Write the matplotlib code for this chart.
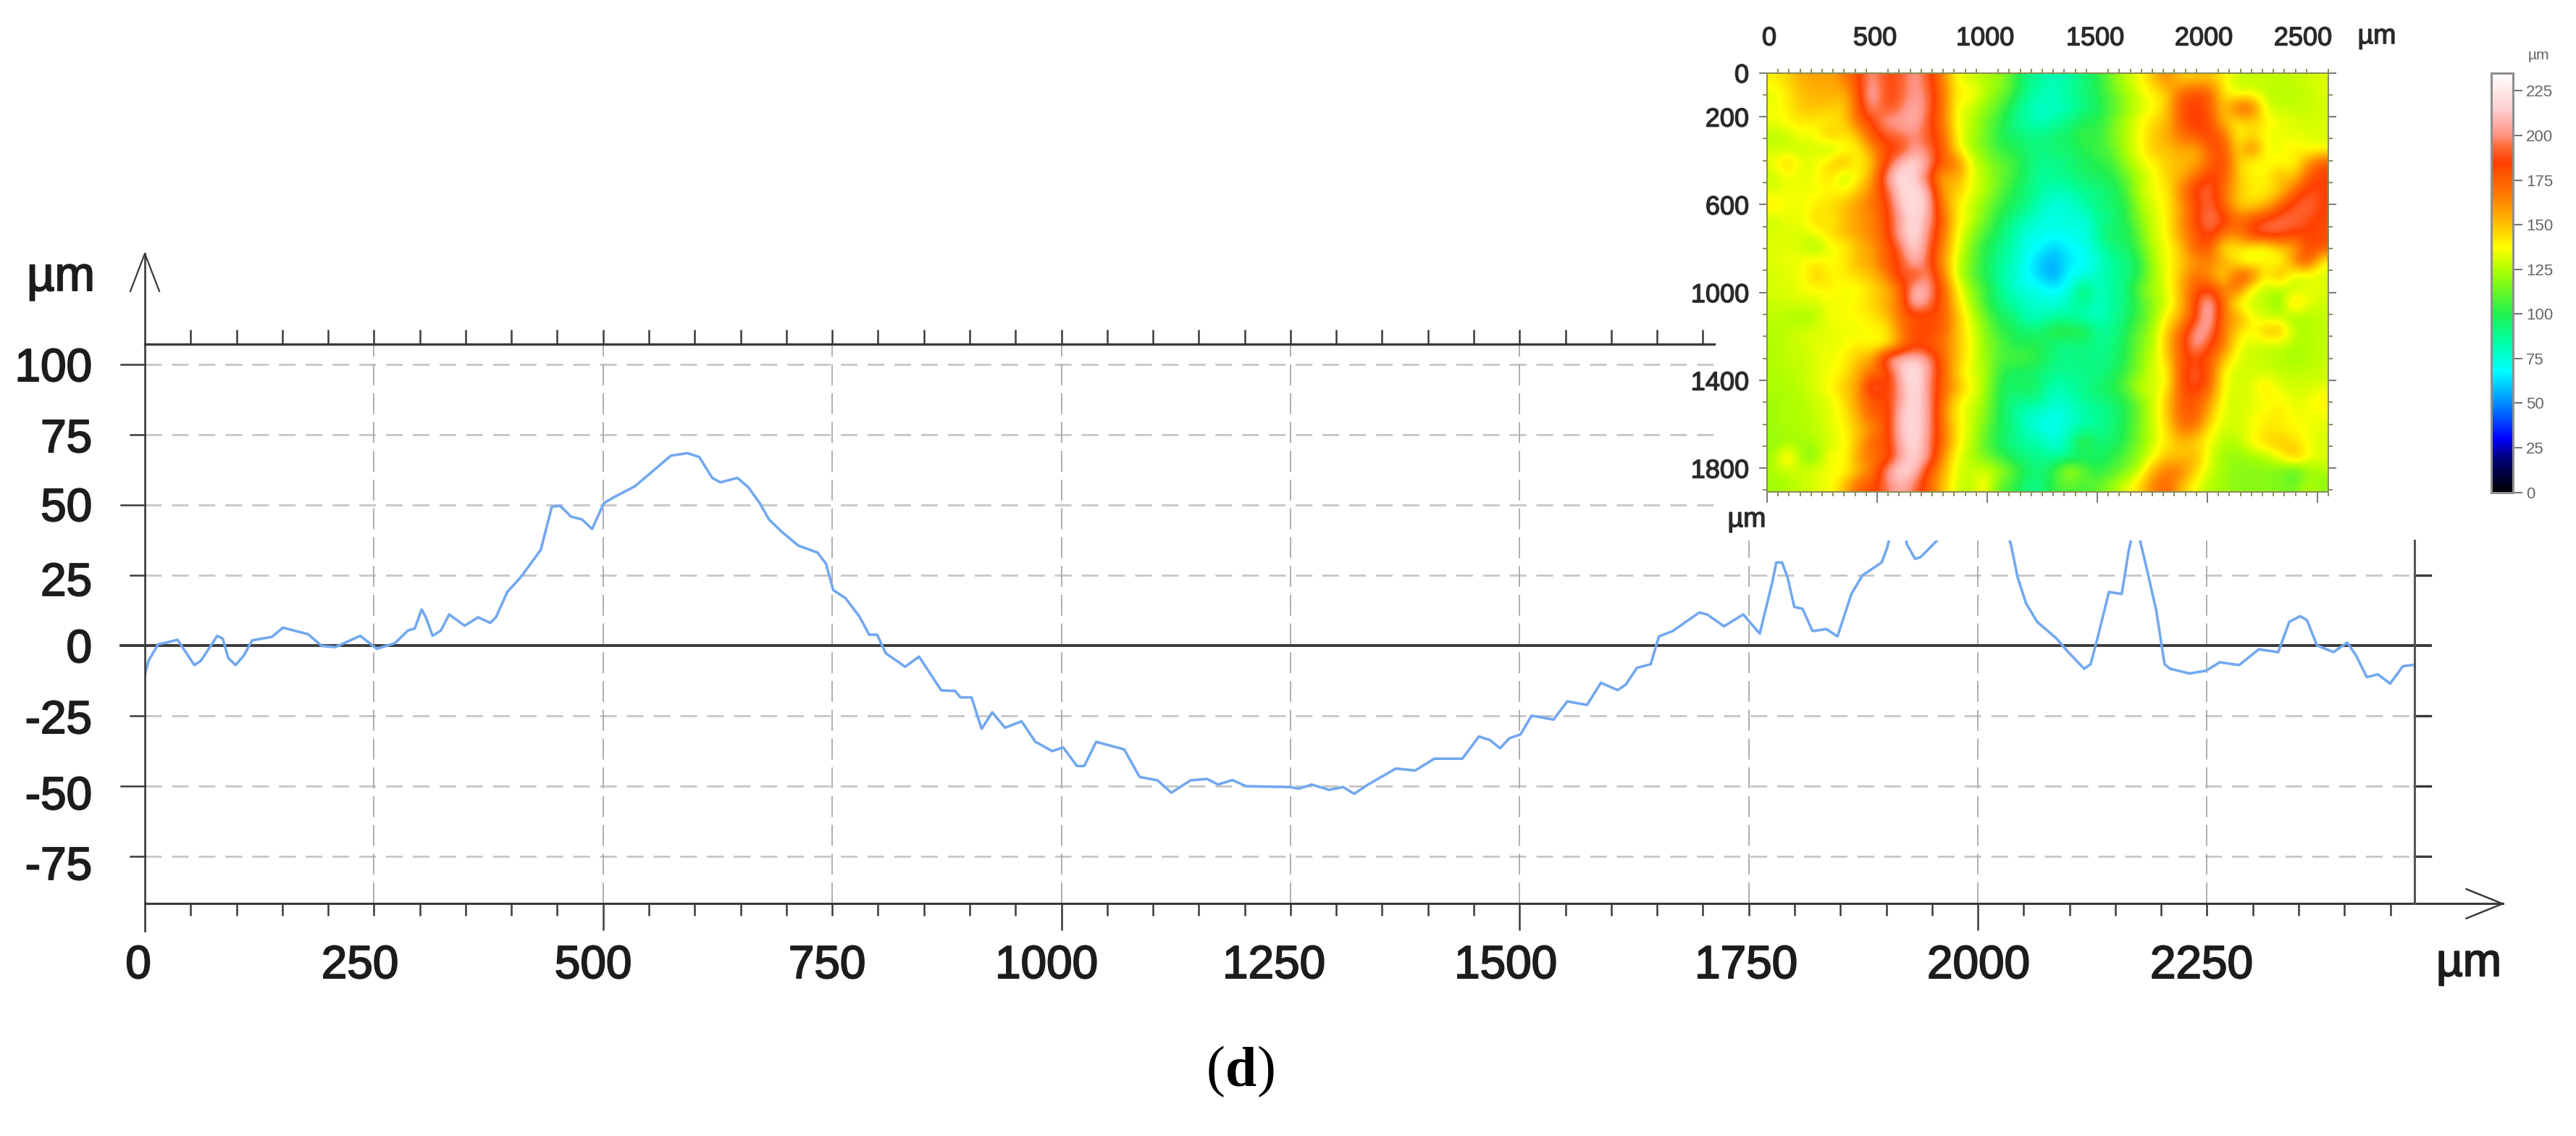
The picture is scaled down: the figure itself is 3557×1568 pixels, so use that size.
import numpy as np
import matplotlib
matplotlib.use("Agg")
import matplotlib.pyplot as plt
import matplotlib.patheffects as pe
from matplotlib.colors import LinearSegmentedColormap, Normalize
from matplotlib.patches import Rectangle

W, H = 3557, 1568

# ====================== profile curve (um, um), None = hidden behind the inset ======================
profile_x = [0, 4, 14.5, 23.6, 35.7, 43, 54, 61, 71, 79, 85, 91, 99, 108, 117, 138.5, 150.6, 178, 193, 208,
             235, 253, 273, 287, 294.5, 302, 306.6, 314, 323, 332, 349, 363.5, 377, 383, 395.5, 410.7, 432, 444, 453, 465,
             477, 488, 501, 513.5, 534.7, 556, 574, 592, 605, 619, 628, 646.5, 658.6, 670.7, 681, 695, 713, 734, 743.3, 751,
             764.5, 779.6, 790.3, 799, 808.4, 829.6, 844.7, 869, 884, 890, 902, 913, 924.6, 938.5, 956.6, 971.7, 990, 1002, 1017, 1025,
             1038, 1068.5, 1085.4, 1105, 1120, 1141, 1159, 1171, 1186.5, 1201.6, 1250, 1259, 1273, 1292, 1307.4, 1319.5, 1334.6, 1365, 1386, 1407,
             1437.5, 1455.6, 1467.7, 1478.6, 1489, 1501, 1513, 1537, 1552, 1573.5, 1588.7, 1607, 1616, 1628, 1643, 1652, 1667, 1696, 1704.7, 1723,
             1744, 1762, 1776, 1780, 1786.3, 1792.4, 1799.7, 1808.7, 1819.6, 1834.7, 1846.8, 1862, 1874, 1895, 1901, 1905.5, 1913, 1920.6, 1922.4, 1931.5,
             1937.5, 1955.7, 1961.7, 2000, 2031, 2036, 2043.4, 2052.5, 2064.6, 2085.7, 2097.8, 2116, 2123, 2131, 2143, 2157, 2164.4, 2167.4, 2172, 2176.5,
             2185.5, 2194.6, 2203.7, 2209.7, 2231, 2249, 2264, 2285, 2306.5, 2327.7, 2339.8, 2351.8, 2359, 2370, 2388, 2403, 2412.3, 2424.4, 2436.5, 2449.8,
             2463.7, 2474]
profile_y = [-10.5, -5.5, 0.4, 1, 2, -1.6, -7, -5.5, -0.6, 3.4, 2.4, -4.5, -7, -3.6, 1.8, 3, 6.3, 4, -0.2, -0.6,
             3.4, -1.2, 0.8, 5.3, 6, 12.8, 10, 3.4, 5.3, 11, 7, 10, 8, 10, 19, 24.5, 34, 49.3, 49.7, 45.8,
             44.8, 41.4, 50.7, 53, 56.6, 62.5, 67.5, 68.4, 67, 59.6, 58, 59.6, 56.2, 50.7, 44.8, 40.4, 35.5, 33, 29, 19.7,
             16.8, 10.3, 3.8, 3.8, -2.8, -7.6, -4, -16, -16.2, -18.5, -18.5, -29.7, -23.8, -29.3, -27, -34.3, -37.6, -36.3, -42.9, -42.9,
             -34.3, -37, -46.8, -48, -52.4, -48, -47.5, -49.5, -47.9, -50.1, -50.4, -51, -49.5, -51.4, -50.4, -52.8, -49.5, -43.8, -44.5, -40.3,
             -40.3, -32.4, -33.7, -36.6, -33, -31.7, -25, -26.4, -19.9, -21.2, -13.3, -15.9, -13.9, -8, -6.7, 3.2, 5.1, 11.7, 11, 6.8,
             11, 4.2, 22.9, 29.5, 29.5, 24.2, 13.7, 13, 5.1, 5.8, 3.2, 18.3, 24.9, 29.5, 34.7, 41, None, 41, 36, 30.8,
             31.4, 37.4, 40, None, 41, 36, 24.2, 15, 8.4, 2.5, -2.1, -8.3, -6.7, 3.2, 19, 18.3, 33.4, 38, None, 38,
             25.5, 12.4, -6.7, -8.3, -10, -9, -6, -7, -1.4, -2.4, 8.4, 10.4, 9, 0, -2.4, 1, -3.4, -11.3, -10.3, -13.6,
             -7.4, -7]

x_major = [0, 250, 500, 750, 1000, 1250, 1500, 1750, 2000, 2250]
y_major = [100, 75, 50, 25, 0, -25, -50, -75]
xtick_labels = ["0", "250", "500", "750", "1000", "1250", "1500", "1750", "2000", "2250"]
ytick_labels = ["100", "75", "50", "25", "0", "-25", "-50", "-75"]

# ====================== surface map, height in um, 30 rows x 40 cols ======================
surface = np.array([
    [140,145,155,158,155,165,182,205,185,190,205,190,165,135,130,125,122,108,90,85, 80,85,92,100,115,128,135,150,165,145,148,150,140,128,128,128,128,128,130,132],
    [132,142,150,152,155,150,180,212,185,190,205,195,170,138,142,125,118,105,88,82, 80,88,92,100,110,122,132,140,145,175,182,178,140,130,132,128,126,126,128,132],
    [135,140,150,150,148,145,178,205,185,195,210,195,170,135,130,120,110,95,82,78, 78,80,90,95,108,118,130,135,148,182,185,178,145,178,175,130,128,128,128,130],
    [135,138,142,140,140,145,172,185,205,205,210,190,168,135,128,115,105,90,85,78, 85,90,100,100,112,125,135,145,150,178,190,182,148,140,148,140,135,132,130,132],
    [125,130,135,135,152,140,150,180,190,195,200,190,175,138,125,115,100,95,90,90, 95,95,108,100,115,125,135,148,155,170,178,185,175,135,145,135,133,133,132,130],
    [130,128,128,132,122,135,138,160,182,182,205,195,178,140,125,115,105,100,95,90, 95,95,100,105,110,125,135,150,148,158,150,178,182,140,172,135,135,142,135,135],
    [135,150,132,135,146,158,135,150,185,212,220,205,175,170,135,122,112,108,95,88, 88,92,98,100,105,120,132,138,148,150,155,170,188,145,135,135,138,135,160,180],
    [128,135,132,135,146,120,140,155,205,222,215,190,150,158,135,125,115,105,95,85, 88,90,95,98,100,110,125,135,145,155,170,190,178,148,140,138,155,145,178,185],
    [132,135,135,135,138,138,148,165,190,218,222,210,155,148,135,125,112,100,92,85, 80,82,88,90,95,105,128,135,140,165,190,195,170,150,138,140,145,172,190,185],
    [142,135,135,140,144,150,160,170,182,215,222,212,165,140,130,118,105,98,90,80, 72,75,82,92,95,100,122,132,140,158,180,195,175,145,145,150,175,190,195,185],
    [128,135,132,148,138,150,158,162,182,205,222,205,175,140,130,115,100,90,82,75, 72,78,72,85,90,100,118,130,138,160,185,200,190,170,178,188,195,195,188,182],
    [132,132,132,135,145,150,158,165,180,210,222,200,170,138,122,108,95,85,72,72, 70,72,72,85,100,95,112,130,138,160,175,195,170,165,190,200,195,185,185,180],
    [132,132,130,120,135,138,150,158,175,195,220,195,165,135,118,100,92,82,72,68, 60,68,70,80,92,95,108,128,135,150,178,180,135,145,138,130,150,150,185,180],
    [132,135,135,142,135,140,155,155,178,185,215,190,160,132,115,100,88,80,70,58, 55,65,68,75,85,90,100,125,135,148,160,165,158,135,128,142,130,165,185,135],
    [130,132,135,150,138,140,145,150,165,195,180,205,165,130,112,100,85,78,68,60, 52,70,70,78,85,90,100,122,135,150,172,160,140,178,178,135,160,130,130,132],
    [132,132,135,138,140,135,135,145,150,168,215,205,178,140,122,105,90,78,72,72, 65,72,98,78,85,92,112,125,132,155,178,188,160,175,130,128,125,125,135,132],
    [128,130,132,130,135,135,140,145,155,170,215,200,175,145,125,105,92,85,80,75, 75,80,90,78,85,90,105,120,130,150,185,215,170,130,130,128,115,155,132,130],
    [128,125,122,125,138,135,138,142,148,170,178,178,182,150,132,115,98,95,78,80, 85,85,80,78,85,95,105,120,140,155,185,215,165,160,135,128,128,120,125,128],
    [125,128,130,132,132,135,132,138,138,165,185,185,175,150,135,118,105,98,95,95, 106,105,105,88,88,98,112,125,148,172,205,205,165,145,135,152,155,128,125,128],
    [125,128,130,133,133,135,142,135,138,160,182,175,170,150,138,120,110,100,100,100, 90,88,92,88,90,100,115,125,150,178,210,185,170,135,130,128,128,125,125,128],
    [125,128,128,132,135,138,150,155,205,215,215,205,175,150,135,122,108,108,108,100, 92,90,92,90,92,100,118,130,145,178,185,178,150,132,130,128,125,122,125,128],
    [125,125,128,132,135,140,155,170,175,212,225,205,175,145,132,125,105,95,95,92, 88,88,90,90,95,105,118,132,135,182,195,178,135,130,130,130,128,128,128,130],
    [125,125,128,132,138,150,155,205,178,205,225,200,175,155,138,125,100,95,102,92, 80,85,88,95,100,110,130,130,138,180,190,175,135,130,132,145,132,130,130,132],
    [122,125,125,130,132,142,160,178,182,205,222,205,170,140,132,122,100,90,88,88, 75,80,88,90,95,100,115,130,148,178,178,160,132,130,132,135,140,132,135,142],
    [122,125,125,128,133,140,155,180,175,215,220,205,165,138,130,118,100,88,78,75, 72,75,82,85,90,100,115,130,148,175,180,150,132,130,135,138,142,135,135,135],
    [122,125,125,128,132,138,150,160,180,212,222,205,170,142,130,115,98,92,78,72, 70,78,85,88,92,100,115,130,142,170,165,140,130,130,135,142,140,138,135,132],
    [120,122,122,125,130,135,150,178,178,210,220,200,172,140,128,110,98,90,85,85, 72,85,112,92,95,102,118,130,142,150,145,135,125,125,138,145,150,145,135,130],
    [122,150,118,118,140,135,160,170,172,205,218,205,160,135,125,115,105,95,90,88, 85,88,92,95,100,110,120,135,150,148,155,132,122,120,122,125,135,155,138,132],
    [125,128,130,133,135,135,150,165,205,220,215,178,155,132,128,132,125,112,98,92, 105,130,115,100,108,115,128,155,168,168,145,130,122,118,118,118,115,105,118,125],
    [122,125,128,132,135,150,175,180,195,210,195,175,150,130,125,142,110,105,90,90, 105,110,105,112,120,132,145,165,175,150,135,125,122,118,118,118,118,112,128,118],
])

# colour scale
bar_levels = [0, 5, 20, 30, 48, 68, 85, 100, 125, 137, 150, 165, 185, 195, 200, 215, 235]
bar_colors = ["#000000", "#000020", "#000080", "#0000ff", "#0080ff", "#00ffff", "#00ffa0", "#20f050", "#b0ff00",
              "#ffff00", "#ffc000", "#ff8000", "#ff4000", "#ff7040", "#ff9080", "#ffd0d0", "#ffffff"]
bar_ticks = [0, 25, 50, 75, 100, 125, 150, 175, 200, 225]

map_xlabels = ["0", "500", "1000", "1500", "2000", "2500"]
map_yticks = [0, 200, 600, 1000, 1400, 1800]

# ====================== layout in picture pixels ======================
AX_L, AX_R, AX_T, AX_B = 200, 3333.5, 474.5, 1247.4
X_MAX = 2476
Y_TOP, Y_BOT = 107.3, -91.9
PX_X = (AX_R - AX_L) / X_MAX
PX_Y = (AX_B - AX_T) / (Y_TOP - Y_BOT)
XLABEL_CENTERS = [191, 497, 819, 1142, 1445, 1759, 2079, 2411, 2732, 3040]
YLABEL_CENTERS = [503, 601, 696, 799, 891, 989, 1094, 1191]
MAP_XLABEL_CENTERS = [2443, 2589, 2741, 2893, 3043, 3180]

DARK = "#3a3a3a"
FONT = "Liberation Sans"


def box(left, top, right, bottom):
    return [left / W, 1 - bottom / H, (right - left) / W, (bottom - top) / H]


def ftext(x, y, s, stroke=0, **kw):
    kw.setdefault("family", FONT)
    kw.setdefault("color", "#1c1c1c")
    kw.setdefault("ha", "center")
    kw.setdefault("va", "center")
    t = fig.text(x / W, 1 - y / H, s, **kw)
    if stroke:
        # the scanned labels look heavier than the regular face
        t.set_path_effects([pe.withStroke(linewidth=stroke, foreground=kw["color"])])
    return t


fig = plt.figure(figsize=(W / 100, H / 100), dpi=100, facecolor="white")
ax = fig.add_axes(box(AX_L, AX_T, AX_R, AX_B))
ax.set_xlim(0, X_MAX)
ax.set_ylim(Y_BOT, Y_TOP)
ax.axis("off")

# grid
for y in y_major:
    if y != 0:
        ax.plot([0, X_MAX], [y, y], color="#c6c6c6", lw=2.0, ls=(0, (8.3, 5)), zorder=1)
for x in x_major[1:]:
    ax.plot([x, x], [Y_BOT, Y_TOP], color="#a8a8a8", lw=1.3, ls=(0, (16, 6)), zorder=1)

# zero line and profile
ax.plot([-33 / PX_X, X_MAX + 22 / PX_X], [0, 0], color=DARK, lw=2.8, clip_on=False, zorder=2)
prof_y = np.array([np.nan if v is None else v for v in profile_y], dtype=float)
ax.plot(profile_x, prof_y, color="#72a8f0", lw=2.6, zorder=3, solid_joinstyle="round")

# frame
ax.plot([0, 0], [-101.6, 139.4], color=DARK, lw=1.9, clip_on=False, zorder=4)
ax.plot([0, 2572.5], [Y_BOT, Y_BOT], color=DARK, lw=2.2, clip_on=False, zorder=4)
ax.plot([0, 1712.6], [Y_TOP, Y_TOP], color=DARK, lw=2.4, clip_on=False, zorder=4)

# arrow heads
ax.plot([-15.8, 0, 15.8], [126, 139.4, 126], color=DARK, lw=1.6, clip_on=False, zorder=4)
ax.plot([2533, 2572.5, 2533], [Y_BOT + 5.2, Y_BOT, Y_BOT - 5.2], color=DARK, lw=1.8, clip_on=False, zorder=4)

# ticks on the axes, lengths turned from pixels to data units
minor_x = np.arange(0, 2451, 50)
ax.vlines(minor_x[minor_x <= 1700][1:], Y_TOP, Y_TOP + 20 / PX_Y, color=DARK, lw=1.8, clip_on=False)
for x in minor_x[1:]:
    ticklen = 37 if x in (500, 1000, 1500, 2000) else 17
    ax.vlines(x, Y_BOT - ticklen / PX_Y, Y_BOT, color=DARK, lw=1.8, clip_on=False)
for y in y_major:
    ticklen = 33 if y % 50 == 0 else 20
    if y != 0:
        ax.plot([-ticklen / PX_X, 0], [y, y], color=DARK, lw=1.8, clip_on=False)
    if y < 50 and y != 0:
        ax.plot([X_MAX, X_MAX + 22 / PX_X], [y, y], color=DARK, lw=2.4, clip_on=False)

# white block where the map sits over the plot
ax.add_patch(Rectangle((1712.6, 37.3), 1200, 120, facecolor="white", edgecolor="none", clip_on=False, zorder=3.5))
ax.plot([X_MAX, X_MAX], [Y_BOT, 37.3], color="#555555", lw=2.2, clip_on=False, zorder=4)

# labels
for cx, s in zip(XLABEL_CENTERS, xtick_labels):
    ftext(cx, 1333, s, fontsize=46, stroke=1.4)
for cy, s in zip(YLABEL_CENTERS, ytick_labels):
    ftext(127, cy + 6, s, fontsize=46, ha="right", stroke=1.4)
ftext(84, 384, "µm", fontsize=48, stroke=1.4)
ftext(3409, 1330, "µm", fontsize=46, stroke=1.4)

# (d), bold letter between plain brackets
ftext(1666, 1480, "(", family="Liberation Serif", fontsize=56, ha="left", color="black")
ftext(1692, 1480, "d", family="Liberation Serif", fontsize=56, ha="left", weight="bold", color="black")
ftext(1735, 1480, ")", family="Liberation Serif", fontsize=56, ha="left", color="black")

# ====================== surface map ======================
cmap = LinearSegmentedColormap.from_list(
    "surface", [(v / bar_levels[-1], c) for v, c in zip(bar_levels, bar_colors)], N=512)
norm = Normalize(0, bar_levels[-1])
MAP_X, MAP_Y = 2551, 1907

ins = fig.add_axes(box(2440, 100.5, 3215.5, 678.6))
im = ins.imshow(surface, cmap=cmap, norm=norm, extent=[0, MAP_X, MAP_Y, 0], aspect="auto", interpolation="bicubic")
tick_col = "#8c8c5a"
for side in ins.spines.values():
    side.set_color(tick_col)
    side.set_linewidth(1.5)
ins.set_xticks(np.arange(0, MAP_X, 500))
ins.set_xticks(np.arange(0, MAP_X, 50), minor=True)
ins.set_yticks(map_yticks)
ins.set_yticks(np.arange(0, MAP_Y, 100), minor=True)
ins.tick_params(axis="x", which="major", top=False, bottom=True, length=11, width=1.4, color="#777777", labelbottom=False)
ins.tick_params(axis="x", which="minor", top=True, bottom=True, length=4, width=1.4, color=tick_col)
ins.tick_params(axis="y", which="major", left=True, right=True, length=8, width=1.4, color="#777777",
                labelsize=26, pad=10, labelcolor="#2a2a2a")
ins.tick_params(axis="y", which="minor", left=True, right=True, length=4, width=1.4, color=tick_col)
for lab in ins.get_yticklabels():
    lab.set_family(FONT)
    lab.set_path_effects([pe.withStroke(linewidth=1.0, foreground="#2a2a2a")])

for cx, s in zip(MAP_XLABEL_CENTERS, map_xlabels):
    ftext(cx, 53, s, fontsize=26, stroke=1.0, color="#2a2a2a")
ftext(3282, 50, "µm", fontsize=27, stroke=1.0, color="#2a2a2a")
ftext(2412, 717, "µm", fontsize=27, stroke=1.0, color="#2a2a2a")

# colour bar
cax = fig.add_axes(box(3440, 100.8, 3470, 679.6))
cb = fig.colorbar(im, cax=cax, ticks=bar_ticks)
cb.outline.set_edgecolor("#8f8f8f")
cb.outline.set_linewidth(2.2)
cax.tick_params(length=9, width=1.5, color="#777777", labelsize=16, labelcolor="#666666", pad=4)
for lab in cax.get_yticklabels():
    lab.set_family(FONT)
ftext(3505, 76, "µm", fontsize=15, color="#666666")

fig.savefig("out.png", dpi=100, facecolor="white")
